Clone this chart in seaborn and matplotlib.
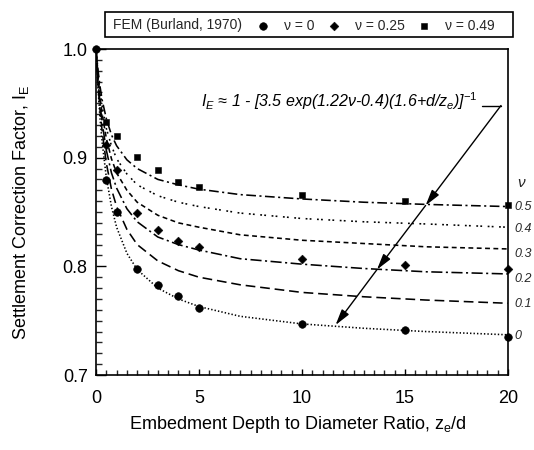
import matplotlib
matplotlib.use("Agg")
import matplotlib.pyplot as plt
from matplotlib.patches import Rectangle
from matplotlib.ticker import MultipleLocator
import seaborn as sns

# FEM results (Burland, 1970)
z_fem = [0.0, 0.5, 1.0, 2.0, 3.0, 4.0, 5.0, 10.0, 15.0, 20.0]
fem_nu0 = [1.0, 0.879, 0.850, 0.798, 0.783, 0.773, 0.762, 0.747, 0.741, 0.735]
z_fem_b = [0.5, 1.0, 2.0, 3.0, 4.0, 5.0, 10.0, 15.0, 20.0]
fem_nu025 = [0.912, 0.889, 0.849, 0.833, 0.823, 0.818, 0.807, 0.801, 0.798]
fem_nu049 = [0.933, 0.920, 0.901, 0.889, 0.878, 0.873, 0.866, 0.860, 0.856]

# Approximate correction curves for several Poisson's ratios
z_curve = [0, 0.1, 0.2, 0.3, 0.5, 0.75, 1, 1.5, 2, 3, 4, 5, 7, 10, 13, 16, 20]
curve_nu = ["0.5", "0.4", "0.3", "0.2", "0.1", "0"]
curve_vals = {
    "0.5": [1.0, 0.980, 0.965, 0.953, 0.936, 0.921, 0.911, 0.898, 0.890, 0.880,
            0.875, 0.871, 0.866, 0.862, 0.859, 0.857, 0.855],
    "0.4": [1.0, 0.977, 0.960, 0.947, 0.927, 0.911, 0.899, 0.885, 0.875, 0.865,
            0.859, 0.855, 0.849, 0.844, 0.841, 0.839, 0.836],
    "0.3": [1.0, 0.975, 0.955, 0.940, 0.918, 0.899, 0.886, 0.870, 0.859, 0.847,
            0.840, 0.836, 0.829, 0.824, 0.821, 0.818, 0.816],
    "0.2": [1.0, 0.971, 0.949, 0.932, 0.907, 0.886, 0.872, 0.853, 0.841, 0.827,
            0.820, 0.815, 0.807, 0.802, 0.798, 0.795, 0.793],
    "0.1": [1.0, 0.967, 0.943, 0.924, 0.895, 0.871, 0.855, 0.834, 0.820, 0.805,
            0.796, 0.790, 0.783, 0.776, 0.772, 0.769, 0.766],
    "0":   [1.0, 0.963, 0.935, 0.914, 0.882, 0.855, 0.836, 0.812, 0.797, 0.780,
            0.770, 0.763, 0.754, 0.747, 0.743, 0.740, 0.737],
}

x_ticks = [0, 5, 10, 15, 20]
y_ticks = [0.7, 0.8, 0.9, 1.0]

sns.set_theme(style="ticks")
plt.rcParams["font.family"] = ["Liberation Sans", "DejaVu Sans"]
plt.rcParams["mathtext.fontset"] = "custom"
plt.rcParams["mathtext.rm"] = "Liberation Sans"
plt.rcParams["mathtext.it"] = "Liberation Sans:italic"
plt.rcParams["lines.scale_dashes"] = False

styles = {
    "0.5": (0, (7, 2.5, 1.5, 2.5)),
    "0.4": (0, (1.3, 1.6, 1.3, 4.0)),
    "0.3": (0, (3.5, 2.5)),
    "0.2": (0, (8, 2.5, 1.5, 2.5)),
    "0.1": (0, (7, 3.5)),
    "0":   (0, (1.0, 1.5)),
}

fig = plt.figure(figsize=(5.34, 4.5), dpi=100, facecolor="white")
ax = fig.add_axes([96 / 534, 1 - 375 / 450, (508 - 96) / 534, (375 - 49) / 450])
ax.set_facecolor("white")

for nu in curve_nu:
    sns.lineplot(x=z_curve, y=curve_vals[nu], ax=ax, color="black", lw=1.15,
                 linestyle=styles[nu], estimator=None)

sns.scatterplot(x=z_fem, y=fem_nu0, ax=ax, marker="o", s=30, color="black",
                edgecolor="black", clip_on=False, zorder=5)
h0 = ax.collections[-1]
sns.scatterplot(x=z_fem_b, y=fem_nu025, ax=ax, marker="D", s=20, color="black",
                edgecolor="black", clip_on=False, zorder=5)
h1 = ax.collections[-1]
sns.scatterplot(x=z_fem_b, y=fem_nu049, ax=ax, marker="s", s=24, color="black",
                edgecolor="black", clip_on=False, zorder=5)
h2 = ax.collections[-1]

ax.set_xlim(0, 20)
ax.set_ylim(0.7, 1.0)
ax.set_xticks(x_ticks)
ax.set_xticklabels([str(t) for t in x_ticks])
ax.set_yticks(y_ticks)
ax.set_yticklabels([f"{t:.1f}" for t in y_ticks])
ax.xaxis.set_minor_locator(MultipleLocator(0.5))
ax.yaxis.set_minor_locator(MultipleLocator(0.01))
ax.tick_params(axis="x", which="major", direction="in", length=4.5, width=1.0,
               labelsize=13, pad=11, colors="black")
ax.tick_params(axis="x", which="minor", direction="in", length=3.5, width=1.0)
ax.tick_params(axis="y", which="major", direction="in", length=7, width=1.0,
               labelsize=13, pad=6, colors="black")
ax.tick_params(axis="y", which="minor", direction="in", length=4, width=1.0)
for sp in ax.spines.values():
    sp.set_visible(True)
    sp.set_color("black")
    sp.set_linewidth(1.2)

ax.set_xlabel(r"Embedment Depth to Diameter Ratio, $\mathrm{z_e}$/d",
              fontsize=13, color="black")
ax.set_ylabel(r"Settlement Correction Factor, $\mathrm{I_E}$",
              fontsize=13, color="black")
ax.xaxis.set_label_coords(0.49, -0.12)
ax.yaxis.set_label_coords(-0.158, 0.5)

# Formula annotation with arrow crossing the curves
ax.text(5.1, 0.952,
        r"$I_E$ ≈ 1 - [3.5 exp(1.22ν-0.4)(1.6+d/$z_e$)]$^{-1}$",
        fontsize=11.5, style="italic", va="center", ha="left", color="black")
ax.plot([18.75, 19.66], [0.948, 0.948], color="black", lw=1.0)
path_pts = [(19.66, 0.948), (16.0, 0.856), (13.64, 0.797), (11.63, 0.746)]
for (x0, y0), (x1, y1) in zip(path_pts[:-1], path_pts[1:]):
    ax.annotate("", xy=(x1, y1), xytext=(x0, y0),
                arrowprops=dict(arrowstyle="-|>,head_length=0.8,head_width=0.22",
                                color="black", lw=1.0, shrinkA=0, shrinkB=0))

# Poisson's ratio labels on the right edge
ax.text(20.45, 0.877, "ν", fontsize=11, style="italic", va="center",
        ha="left", clip_on=False)
right_y = [0.855, 0.834, 0.811, 0.788, 0.765, 0.736]
for nu, yv in zip(curve_nu, right_y):
    ax.text(20.3, yv, nu, fontsize=9, style="italic", va="center",
            ha="left", clip_on=False)

# Legend box above the plot
fig.patches.append(Rectangle((105 / 534, 1 - 37 / 450), 408 / 534, 25 / 450,
                             transform=fig.transFigure, fill=False,
                             edgecolor="black", lw=1.2))
fig.text(113 / 534, 1 - 24.5 / 450, "FEM (Burland, 1970)", fontsize=10,
         va="center", ha="left")
leg = fig.legend(handles=[h0, h1, h2], labels=["ν = 0", "ν = 0.25", "ν = 0.49"],
                 loc="center left", bbox_to_anchor=(256 / 534, 1 - 25.5 / 450),
                 ncol=3, frameon=False, fontsize=10, handlelength=1.0,
                 handletextpad=1.0, columnspacing=0.9, borderpad=0,
                 borderaxespad=0)

fig.savefig("out.png", dpi=100, facecolor="white")
